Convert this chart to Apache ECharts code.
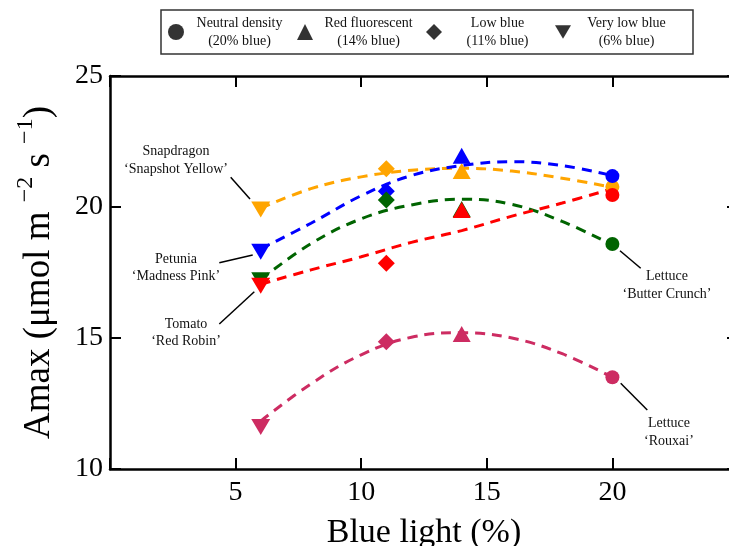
<!DOCTYPE html>
<html><head><meta charset="utf-8">
<script src="https://cdn.jsdelivr.net/npm/echarts@6/dist/echarts.min.js"></script>
<style>html,body{margin:0;padding:0;background:#fff}#c{width:729px;height:546px}</style>
</head><body><div id="c"></div>
<script>
// ---- data ----
const treatments = ['Neutral density', 'Red fluorescent', 'Low blue', 'Very low blue'];
const treatmentSub = ['(20% blue)', '(14% blue)', '(11% blue)', '(6% blue)'];
const treatmentX = [20, 14, 11, 6];
const plants = ['Snapdragon', 'Petunia', 'Tomato', 'Lettuce Butter Crunch', 'Lettuce Rouxai'];
const snapdragonAmax = [20.77, 21.37, 21.46, 19.9];
const petuniaAmax = [21.18, 21.96, 20.6, 18.29];
const lettuceButterAmax = [18.59, 19.92, 20.27, 17.2];
const tomatoAmax = [20.46, 19.89, 17.85, 16.99];
const lettuceRouxaiAmax = [13.5, 15.15, 14.86, 11.6];
const fitX = [6, 8, 10, 12, 14, 16, 18, 20];
const snapdragonFit = [19.95, 20.7, 21.15, 21.4, 21.48, 21.37, 21.1, 20.75];
const petuniaFit = [18.4, 19.38, 20.43, 21.2, 21.58, 21.73, 21.58, 21.2];
const lettuceButterFit = [17.23, 18.6, 19.55, 20.08, 20.3, 20.1, 19.45, 18.55];
const tomatoFit = [17.05, 17.6, 18.1, 18.65, 19.1, 19.65, 20.15, 20.7];
const lettuceRouxaiFit = [11.83, 13.25, 14.36, 15.03, 15.2, 15.0, 14.4, 13.5];
const xTicks = [5, 10, 15, 20];
const yTicks = [10, 15, 20, 25];

// ---- styles ----
const FONT = '"Liberation Serif", "Times New Roman", serif';
const DOWN = 'path://M0,0L10,0L5,8.5Z';
const SYMBOLS = ['circle', 'triangle', 'diamond', DOWN];
const SIZES = [14, [18, 16], 17, [19, 16]];
const plantSets = [
  {amax: snapdragonAmax, fit: snapdragonFit, color: '#FFA500'},
  {amax: petuniaAmax, fit: petuniaFit, color: '#0000FF'},
  {amax: lettuceButterAmax, fit: lettuceButterFit, color: '#006400'},
  {amax: tomatoAmax, fit: tomatoFit, color: '#FF0000'},
  {amax: lettuceRouxaiAmax, fit: lettuceRouxaiFit, color: '#CD2C62'}
];

const series = [];
plantSets.forEach((p, k) => {
  series.push({
    type: 'line', name: plants[k] + ' fit', silent: true,
    data: fitX.map((x, i) => [x, p.fit[i]]),
    smooth: 0.4, symbol: 'none', showSymbol: false,
    lineStyle: {color: p.color, width: 3, type: [10, 7]}, z: 2
  });
});
plantSets.forEach((p, k) => {
  series.push({
    type: 'scatter', name: plants[k],
    data: treatmentX.map((x, i) => [x, p.amax[i]]),
    symbol: (v, prm) => SYMBOLS[prm.dataIndex],
    symbolSize: (v, prm) => SIZES[prm.dataIndex],
    itemStyle: {color: p.color, opacity: 1}, z: 3
  });
});
treatments.forEach((t, i) => {
  series.push({type: 'scatter', name: t, data: [], symbol: SYMBOLS[i], itemStyle: {color: '#000'}});
});

const axisLine = {show: true, onZero: false, lineStyle: {color: '#000', width: 2.5}};
const axisTick = {show: true, inside: true, length: 11, lineStyle: {color: '#000', width: 2}};

const chart = echarts.init(document.getElementById('c'), null, {renderer: 'canvas'});
chart.setOption({
  animation: false,
  backgroundColor: '#fff',
  grid: {left: 110, top: 76, width: 628, height: 393, containLabel: false, outerBoundsMode: 'none'},
  legend: {
    left: 161, top: 10, orient: 'horizontal', selectedMode: false,
    data: treatments.map((t, i) => ({name: t, icon: SYMBOLS[i]})),
    itemWidth: 16, itemHeight: 16, itemGap: 7,
    padding: [6, 16, 6, 7],
    borderColor: '#333', borderWidth: 1.5,
    formatter: n => '{t|' + n + '}\n{t|' + treatmentSub[treatments.indexOf(n)] + '}',
    textStyle: {rich: {t: {width: 101, align: 'center', fontSize: 14, lineHeight: 18, fontFamily: FONT, color: '#111'}}}
  },
  xAxis: [
    {type: 'value', min: 0, max: 25, interval: 5, position: 'bottom',
     axisLine, axisTick, splitLine: {show: false},
     axisLabel: {formatter: v => xTicks.includes(v) ? String(v) : '', fontSize: 28, fontFamily: FONT, color: '#000', margin: 10},
     name: 'Blue light (%)', nameLocation: 'middle', nameGap: 47,
     nameTextStyle: {fontSize: 34, fontFamily: FONT, color: '#000'}},
    {type: 'value', min: 0, max: 25, interval: 5, position: 'top',
     axisLine, axisTick, splitLine: {show: false}, axisLabel: {show: false}}
  ],
  yAxis: [
    {type: 'value', min: 10, max: 25, interval: 5, position: 'left',
     axisLine, axisTick, splitLine: {show: false},
     axisLabel: {formatter: v => yTicks.includes(v) ? String(v) : '', fontSize: 28, fontFamily: FONT, color: '#000', margin: 7},
     name: '{m|Amax (\u03bcmol m }{s|\u22122}{m| s }{s|\u22121}{m|)}',
     nameLocation: 'middle', nameGap: 52, nameRotate: 90,
     nameTextStyle: {rich: {
       m: {fontSize: 37, fontFamily: FONT, color: '#000', lineHeight: 44, verticalAlign: 'bottom'},
       s: {fontSize: 24, fontFamily: FONT, color: '#000', lineHeight: 44, verticalAlign: 'top'}
     }}},
    {type: 'value', min: 10, max: 25, interval: 5, position: 'right',
     axisLine, axisTick, splitLine: {show: false}, axisLabel: {show: false}}
  ],
  series,
  graphic: [
    ...[
      ['Snapdragon\n\u2018Snapshot Yellow\u2019', 176, 160.5],
      ['Petunia\n\u2018Madness Pink\u2019', 176, 268],
      ['Tomato\n\u2018Red Robin\u2019', 186, 333],
      ['Lettuce\n\u2018Butter Crunch\u2019', 667, 285.5],
      ['Lettuce\n\u2018Rouxai\u2019', 669, 432.5]
    ].map(a => ({type: 'text', silent: true, z: 10,
      style: {text: a[0], x: a[1], y: a[2], textAlign: 'center', textVerticalAlign: 'middle',
        font: '14px ' + FONT, lineHeight: 17.5, fill: '#111'}})),
    ...[
      [230.7, 177.3, 250, 199],
      [219.3, 262.7, 252.7, 255],
      [219.3, 324, 254.3, 291.7],
      [620, 250.7, 640.7, 268.3],
      [620.7, 383.3, 647.3, 410]
    ].map(l => ({type: 'line', silent: true, z: 10,
      shape: {x1: l[0], y1: l[1], x2: l[2], y2: l[3]},
      style: {stroke: '#000', lineWidth: 1.5}}))
  ]
});
</script></body></html>
